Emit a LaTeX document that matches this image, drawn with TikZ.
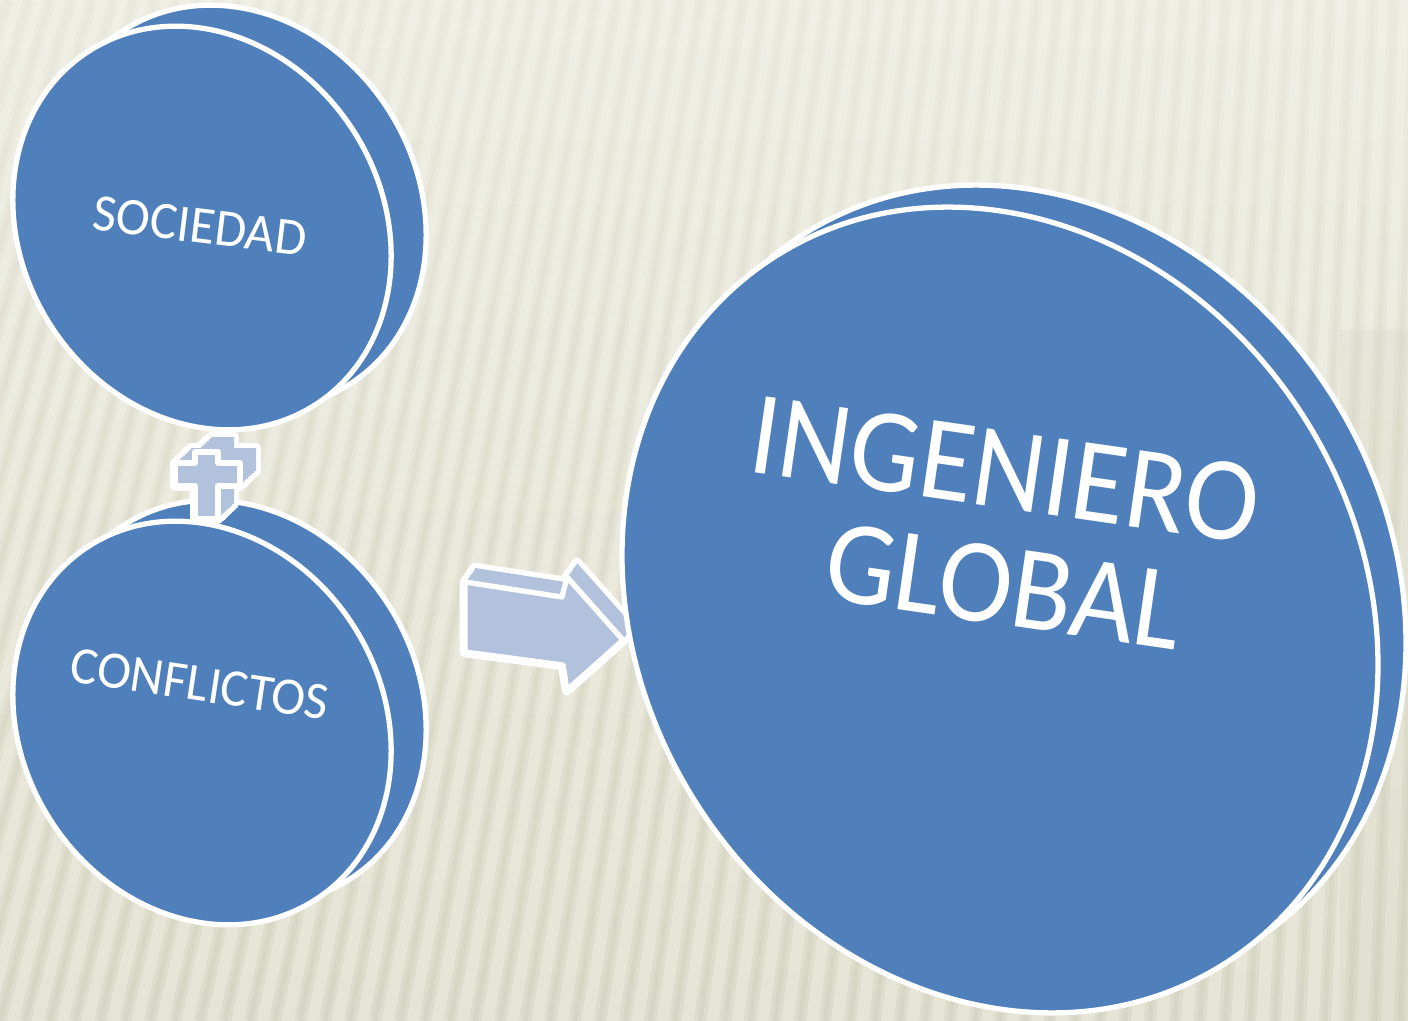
\documentclass[tikz,border=0pt]{standalone}
\usepackage{fontspec}
\setmainfont{Carlito}
\definecolor{bgtop}{HTML}{F0EFE5}
\definecolor{bgbot}{HTML}{E6E4D5}
\definecolor{stripec}{HTML}{C9C7B2}
\definecolor{blu}{HTML}{4F80BC}
\definecolor{lblu}{HTML}{B3C2DC}
\begin{document}
\begin{tikzpicture}[x=0.01cm,y=0.01cm,
  disc/.style={fill=blu,draw=white,line width=1.5pt},
  lbl/.style={text=white,inner sep=0pt,transform shape},
  sweepline/.style={draw=white,line width=3pt,line join=round},
  plusshape/.style={insert path={(195,-452) -- (218,-452) -- (218,-463) -- (240,-463) -- (240,-486) -- (218,-486) -- (218,-519) -- (195,-519) -- (195,-486) -- (175,-486) -- (175,-463) -- (195,-463) -- cycle}},
  arrowshape/.style={insert path={(465,-582) -- (562,-597) -- (567,-577) -- (623,-640) -- (567,-690) -- (563,-665) -- (465,-652) -- cycle}}
]
\useasboundingbox (0,-1021) rectangle (1408,0);
% background
\shade[top color=bgtop,bottom color=bgbot] (0,-1021) rectangle (1408,0);
\begin{scope}
  \clip (0,-1021) rectangle (1408,0);
  \foreach \k in {-14,...,58} {
    \pgfmathsetmacro{\xb}{\k*25}
    \pgfmathsetmacro{\xt}{\xb+260-0.16*\xb}
    \foreach \j in {0,...,9} {
      \pgfmathsetmacro{\op}{0.08+0.022*\j}
      \pgfmathsetmacro{\fa}{\j/10}
      \pgfmathsetmacro{\fb}{(\j+1)/10}
      \pgfmathsetmacro{\xa}{\xt+\fa*(\xb-\xt)}
      \pgfmathsetmacro{\xc}{\xt+\fb*(\xb-\xt)}
      \draw[stripec,line width=3.5pt,opacity=\op,line cap=butt] (\xa,{-1021*\fa}) -- (\xc,{-1021*\fb});
      \draw[stripec,line width=1.4pt,opacity=\op,line cap=butt] (\xa,{-1021*\fa}) -- (\xc,{-1021*\fb});
    }
  }
  \fill[stripec,opacity=0.15] (1340,-330) rectangle (1408,-1021);
\end{scope}
% SOCIEDAD disc
\draw[disc,rotate around={-57.5:(237,-207)}] (237,-207) ellipse [x radius=210,y radius=180];
\draw[disc,rotate around={-57.5:(202,-228)}] (202,-228) ellipse [x radius=210,y radius=180];
% CONFLICTOS back disc
\draw[disc,rotate around={-57.5:(237,-702)}] (237,-702) ellipse [x radius=210,y radius=180];
% plus sign
\foreach \t in {0,...,8} \path[sweepline,shift={({\t*2},{\t*1.875})},plusshape];
\foreach \t in {0,...,8} \fill[lblu,shift={({\t*2},{\t*1.875})},plusshape];
\path[fill=lblu,draw=white,line width=1.5pt,line join=round,plusshape];
% CONFLICTOS front disc
\draw[disc,rotate around={-57.5:(202,-723)}] (202,-723) ellipse [x radius=210,y radius=180];
% arrow
\foreach \t in {0,...,8} \path[sweepline,shift={({\t*1.25},{\t*1.75})},arrowshape];
\foreach \t in {0,...,8} \fill[lblu,shift={({\t*1.25},{\t*1.75})},arrowshape];
\path[fill=lblu,draw=white,line width=1.5pt,line join=round,arrowshape];
% big disc
\draw[disc,rotate around={-57.5:(1028,-588)}] (1028,-588) ellipse [x radius=419,y radius=360];
\draw[disc,rotate around={-57.5:(1000,-610)}] (1000,-610) ellipse [x radius=419,y radius=360];
% labels
\node[lbl,font=\fontsize{15}{18}\selectfont,rotate=-7,xscale=0.97] (soc) at (200,-226) {SOCIEDAD};
\node[lbl,font=\fontsize{15}{18}\selectfont,rotate=-8.5,xscale=0.97] (con) at (200,-684) {CONFLICTOS};
\node[lbl,font=\fontsize{34}{32.9}\selectfont,align=center,rotate=-8.2,xscale=0.93] (ing) at (997,-527) {INGENIERO\\\hspace*{9.4pt}GLOBAL};
\end{tikzpicture}
\end{document}
